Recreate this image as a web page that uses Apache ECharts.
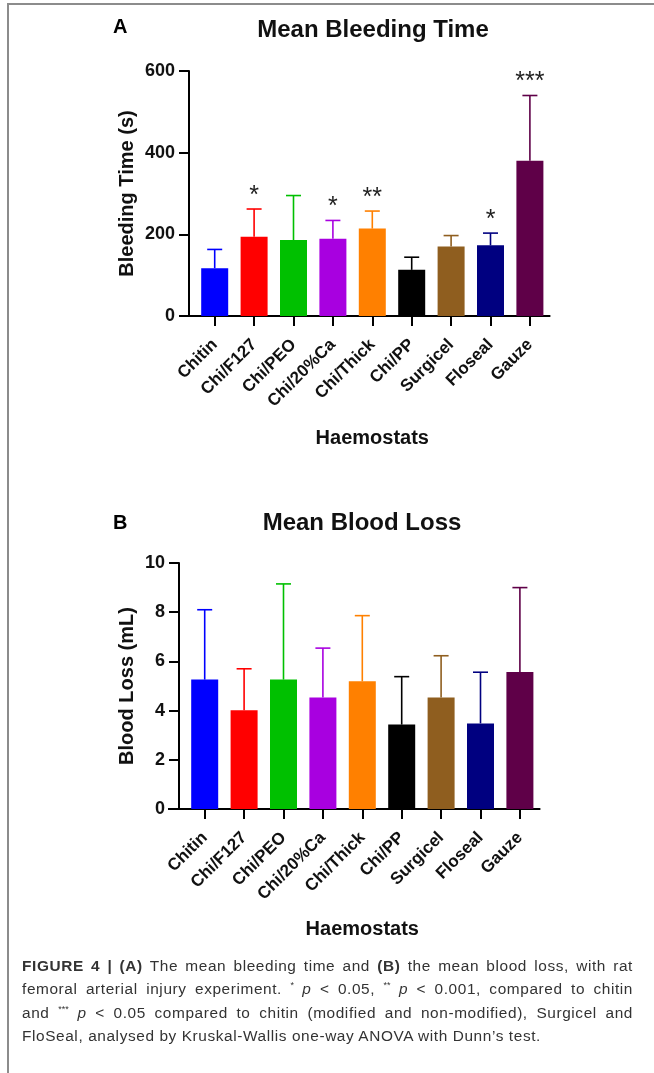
<!DOCTYPE html>
<html>
<head>
<meta charset="utf-8">
<script src="https://cdn.jsdelivr.net/npm/echarts@6.0.0/dist/echarts.min.js"></script>
<style>
html,body{margin:0;padding:0;background:#fff;}
#wrap{position:relative;width:654px;height:1073px;overflow:hidden;background:#fff;}
#chart{position:absolute;left:0;top:0;width:654px;height:1073px;}
#topline{position:absolute;left:7px;top:3px;width:647px;height:2px;background:#8c8c8c;}
#leftline{position:absolute;left:7px;top:3px;width:2px;height:1070px;background:#8c8c8c;}
#caption{position:absolute;left:22px;top:954px;width:611px;font-family:"Liberation Sans",Arial,Helvetica,sans-serif;font-size:15.4px;letter-spacing:0.6px;color:#333;line-height:23.3px;}
#caption div{text-align:justify;text-align-last:justify;white-space:nowrap;}
#caption div.last{text-align-last:left;}
#caption sup{font-size:9px;vertical-align:6px;line-height:0;letter-spacing:0;}
</style>
</head>
<body>
<div id="wrap">
  <div id="chart"></div>
  <div id="topline"></div>
  <div id="leftline"></div>
  <div id="caption">
    <div><b>FIGURE 4 | (A)</b> The mean bleeding time and <b>(B)</b> the mean blood loss, with rat</div>
    <div>femoral arterial injury experiment. <sup>*</sup> <i>p</i> &lt; 0.05, <sup>**</sup> <i>p</i> &lt; 0.001, compared to chitin</div>
    <div>and <sup>***</sup> <i>p</i> &lt; 0.05 compared to chitin (modified and non-modified), Surgicel and</div>
    <div class="last">FloSeal, analysed by Kruskal-Wallis one-way ANOVA with Dunn’s test.</div>
  </div>
</div>
<script>
// ---- data ----
const categories = ['Chitin','Chi/F127','Chi/PEO','Chi/20%Ca','Chi/Thick','Chi/PP','Surgicel','Floseal','Gauze'];
const bleedMean = [117, 194, 186, 189, 214, 113, 170, 173, 380];
const bleedSD   = [46, 68, 109, 45, 43, 31, 27, 30, 160];
const bleedStars = ['', '*', '', '*', '**', '', '', '*', '***'];
const lossMean = [5.26, 4.01, 5.26, 4.53, 5.19, 3.43, 4.53, 3.48, 5.57];
const lossSD   = [2.84, 1.69, 3.89, 2.01, 2.67, 1.95, 1.70, 2.08, 3.43];
const bleedTicks = [0, 200, 400, 600];
const lossTicks = [0, 2, 4, 6, 8, 10];

// ---- styles ----
const barColors = ['#0000ff','#ff0000','#00c000','#a800e0','#ff8000','#000000','#8f5e1f','#000080','#5f0048'];
const FONT = '"Liberation Sans", Arial, Helvetica, sans-serif';

const chart = echarts.init(document.getElementById('chart'), null, {renderer:'canvas'});

function errRenderer(stars){
  return function(params, api){
    const i = api.value(0);
    const m = api.value(1);
    const sd = api.value(2);
    const base = api.coord([i, m]);
    const top = api.coord([i, m + sd]);
    const c = barColors[i];
    const hw = 7.5;
    const children = [
      {type:'line', shape:{x1:base[0], y1:base[1], x2:top[0], y2:top[1]}, style:{stroke:c, lineWidth:1.6}},
      {type:'line', shape:{x1:top[0]-hw, y1:top[1], x2:top[0]+hw, y2:top[1]}, style:{stroke:c, lineWidth:1.6}}
    ];
    if (stars && stars[i]) {
      children.push({type:'text', x:top[0], y:top[1]-13,
        style:{text:stars[i], align:'center', verticalAlign:'middle', font:'25px ' + FONT, fill:'#222'}});
    }
    return {type:'group', children: children};
  };
}

function xAxisCfg(gridIndex, nameGap){
  return {
    gridIndex: gridIndex, type:'category', data: categories,
    name:'Haemostats', nameLocation:'middle', nameGap: nameGap, nameMoveOverlap:false,
    nameTextStyle:{fontSize:20, fontWeight:'bold', color:'#111', fontFamily:FONT},
    axisLine:{show:true, lineStyle:{color:'#000', width:2}},
    axisTick:{show:true, alignWithLabel:true, length:10, lineStyle:{color:'#000', width:2}},
    axisLabel:{interval:0, rotate:45, margin:26, fontSize:17, fontWeight:'bold', color:'#111', fontFamily:FONT},
    splitLine:{show:false}
  };
}
function yAxisCfg(gridIndex, name, ticks, nameGap){
  return {
    gridIndex: gridIndex, type:'value', min: ticks[0], max: ticks[ticks.length-1],
    interval: ticks[1]-ticks[0], offset: 6,
    name: name, nameLocation:'middle', nameGap: nameGap, nameRotate: 90, nameMoveOverlap:false,
    nameTextStyle:{fontSize:20, fontWeight:'bold', color:'#111', fontFamily:FONT},
    axisLine:{show:true, lineStyle:{color:'#000', width:2}},
    axisTick:{show:true, length:10, lineStyle:{color:'#000', width:2}},
    axisLabel:{margin:14, fontSize:18, fontWeight:'bold', color:'#111', fontFamily:FONT},
    splitLine:{show:false}
  };
}

const option = {
  animation:false,
  backgroundColor:'transparent',
  grid:[
    {left:195, top:71, width:354.6, height:245},
    {left:185, top:563, width:354.6, height:246}
  ],
  xAxis:[ xAxisCfg(0, 112), xAxisCfg(1, 110) ],
  yAxis:[ yAxisCfg(0, 'Bleeding Time (s)', bleedTicks, 52), yAxisCfg(1, 'Blood Loss (mL)', lossTicks, 42) ],
  series:[
    {type:'bar', xAxisIndex:0, yAxisIndex:0, barWidth:27,
     data: bleedMean.map((v,i)=>({value:v, itemStyle:{color:barColors[i]}}))},
    {type:'custom', xAxisIndex:0, yAxisIndex:0, z:3, renderItem: errRenderer(bleedStars),
     data: bleedMean.map((v,i)=>[i, v, bleedSD[i]])},
    {type:'bar', xAxisIndex:1, yAxisIndex:1, barWidth:27,
     data: lossMean.map((v,i)=>({value:v, itemStyle:{color:barColors[i]}}))},
    {type:'custom', xAxisIndex:1, yAxisIndex:1, z:3, renderItem: errRenderer(null),
     data: lossMean.map((v,i)=>[i, v, lossSD[i]])}
  ],
  graphic:[
    {type:'text', x:113, y:27.5, style:{text:'A', align:'left', verticalAlign:'middle', font:'bold 20px ' + FONT, fill:'#000'}},
    {type:'text', x:373, y:30.5, style:{text:'Mean Bleeding Time', align:'center', verticalAlign:'middle', font:'bold 24px ' + FONT, fill:'#111'}},
    {type:'text', x:113, y:523, style:{text:'B', align:'left', verticalAlign:'middle', font:'bold 20px ' + FONT, fill:'#000'}},
    {type:'text', x:362, y:523, style:{text:'Mean Blood Loss', align:'center', verticalAlign:'middle', font:'bold 24px ' + FONT, fill:'#111'}},
    {type:'line', shape:{x1:179, y1:316, x2:196, y2:316}, style:{stroke:'#000', lineWidth:2}},
    {type:'line', shape:{x1:168, y1:809, x2:186, y2:809}, style:{stroke:'#000', lineWidth:2}}
  ]
};
chart.setOption(option);
</script>
</body>
</html>
